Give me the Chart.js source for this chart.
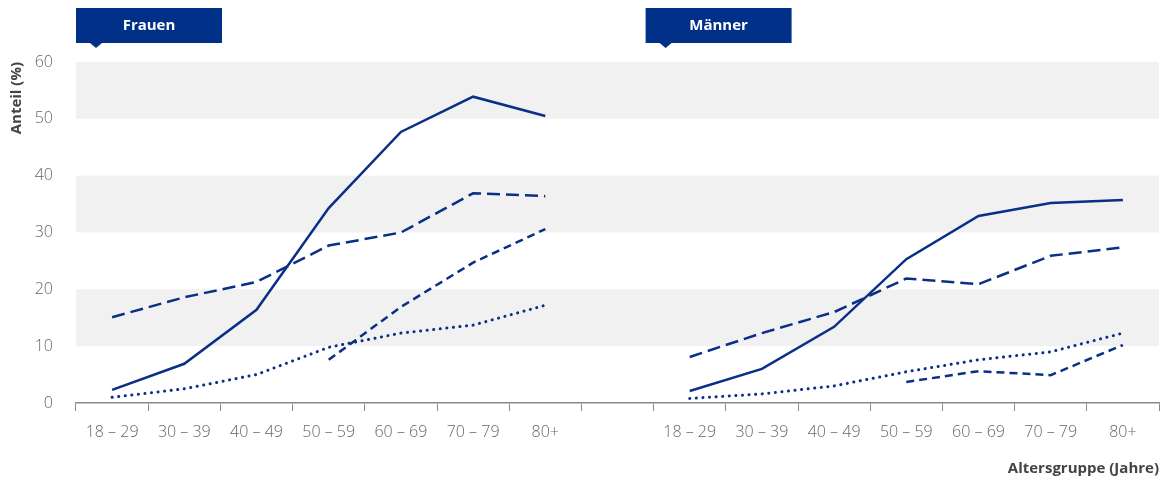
<!DOCTYPE html>
<html lang="de">
<head>
<meta charset="utf-8">
<title>Anteil nach Altersgruppe</title>
<script src="https://cdn.jsdelivr.net/npm/chart.js@4/dist/chart.umd.min.js"></script>
<style>
  html, body { margin: 0; padding: 0; background: #fff; }
  #wrap { width: 1168px; height: 481px; position: relative; }
</style>
</head>
<body>
<div id="wrap"><canvas id="chart"></canvas></div>
<script>
// age groups per panel; one empty slot separates Frauen and Männer
const AGE_GROUPS = ["18 – 29", "30 – 39", "40 – 49", "50 – 59", "60 – 69", "70 – 79", "80+"];
const PANELS = ["Frauen", "Männer"];
const Y_TICKS = [0, 10, 20, 30, 40, 50, 60];
const BANDS = [[10, 20], [30, 40], [50, 60]];

// Frauen
const frauenSolid  = [2.3, 6.9, 16.4, 34.3, 47.7, 53.9, 50.5];
const frauenLong   = [15.1, 18.6, 21.3, 27.7, 30.0, 36.9, 36.4];
const frauenMedium = [null, null, null, 7.6, 16.9, 24.7, 30.6];
const frauenDot    = [1.0, 2.5, 5.0, 9.8, 12.3, 13.7, 17.2];

// Männer
const maennerSolid  = [2.1, 6.0, 13.4, 25.3, 32.9, 35.2, 35.7];
const maennerLong   = [8.1, 12.3, 16.0, 21.9, 20.9, 25.9, 27.4];
const maennerMedium = [null, null, null, 3.7, 5.6, 4.9, 10.2];
const maennerDot    = [0.8, 1.6, 3.0, 5.5, 7.6, 9.0, 12.3];

const NAVY = "#0a2f87";
const FONT = "'Open Sans', sans-serif";
const labels = [...AGE_GROUPS, "", ...AGE_GROUPS];
const gap = AGE_GROUPS.map(() => null);
const left  = arr => [...arr, null, ...gap];
const right = arr => [...gap, null, ...arr];

const STYLES = {
  solid:  { borderDash: [], borderWidth: 2.5, borderCapStyle: "butt" },
  long:   { borderDash: [13, 6], borderWidth: 2.5, borderCapStyle: "butt" },
  medium: { borderDash: [8, 5], borderWidth: 2.5, borderCapStyle: "butt" },
  dot:    { borderDash: [0.1, 6.5], borderWidth: 3, borderCapStyle: "round" }
};
const ds = (name, data, st) => ({
  label: name, data, borderColor: NAVY, backgroundColor: NAVY,
  pointRadius: 0, tension: 0, spanGaps: false, borderJoinStyle: "miter", ...STYLES[st]
});

// grey horizontal bands behind the lines
const bandPlugin = {
  id: "bands",
  beforeDatasetsDraw(chart) {
    const { ctx, chartArea: a, scales: { y } } = chart;
    ctx.save();
    ctx.fillStyle = "#f1f1f1";
    BANDS.forEach(([lo, hi]) => {
      const t = y.getPixelForValue(hi), b = y.getPixelForValue(lo);
      ctx.fillRect(a.left, t, a.right - a.left, b - t);
    });
    ctx.restore();
  }
};

// panel header boxes with small pointer
const panelPlugin = {
  id: "panels",
  afterDraw(chart) {
    const { ctx, scales: { x } } = chart;
    const step = x.getPixelForValue(1) - x.getPixelForValue(0);
    const starts = [x.getPixelForValue(0) - step / 2, x.getPixelForValue(8) - step / 2 - 8];
    ctx.save();
    PANELS.forEach((name, i) => {
      const l = starts[i], t = 8, w = 146, h = 35;
      ctx.fillStyle = "#003087";
      ctx.fillRect(l, t, w, h);
      ctx.beginPath();
      ctx.moveTo(l + 14, t + h);
      ctx.lineTo(l + 26, t + h);
      ctx.lineTo(l + 20, t + h + 5);
      ctx.closePath();
      ctx.fill();
      ctx.fillStyle = "#fff";
      ctx.font = "bold 15px " + FONT;
      ctx.textAlign = "center";
      ctx.textBaseline = "middle";
      ctx.fillText(name, l + w / 2, t + h / 2);
    });
    ctx.restore();
  }
};

new Chart(document.getElementById("chart"), {
  type: "line",
  data: {
    labels,
    datasets: [
      ds("Frauen 1", left(frauenSolid), "solid"),
      ds("Frauen 2", left(frauenLong), "long"),
      ds("Frauen 3", left(frauenMedium), "medium"),
      ds("Frauen 4", left(frauenDot), "dot"),
      ds("Männer 1", right(maennerSolid), "solid"),
      ds("Männer 2", right(maennerLong), "long"),
      ds("Männer 3", right(maennerMedium), "medium"),
      ds("Männer 4", right(maennerDot), "dot")
    ]
  },
  options: {
    responsive: true,
    maintainAspectRatio: false,
    animation: false,
    layout: { padding: { top: 62, right: 9, bottom: 0, left: 0 } },
    plugins: { legend: { display: false }, tooltip: { enabled: false } },
    scales: {
      x: {
        offset: true,
        afterFit: s => { s.height = 78; },
        grid: { offset: true, drawOnChartArea: false, tickLength: 8, color: "#8a8a8a", tickColor: "#8a8a8a" },
        border: { color: "#8a8a8a", width: 1.5 },
        ticks: { color: "#666", font: { family: FONT, size: 16, weight: 300 }, padding: 12, maxRotation: 0, autoSkip: false },
        title: { display: true, text: "Altersgruppe (Jahre)", align: "end", color: "#444", font: { family: FONT, size: 15, weight: "bold" }, padding: { top: 4, bottom: 3 } }
      },
      y: {
        min: 0, max: 60,
        afterBuildTicks: s => { s.ticks = Y_TICKS.map(v => ({ value: v })); },
        afterFit: s => { s.width = 76; },
        grid: { display: false },
        border: { display: false },
        ticks: { color: "#666", font: { family: FONT, size: 16, weight: 300 }, padding: 15 },
        title: { display: true, text: "Anteil (%)", align: "end", color: "#444", font: { family: FONT, size: 15, weight: "bold" }, padding: { top: 8, bottom: 8 } }
      }
    }
  },
  plugins: [bandPlugin, panelPlugin]
});
</script>
</body>
</html>
